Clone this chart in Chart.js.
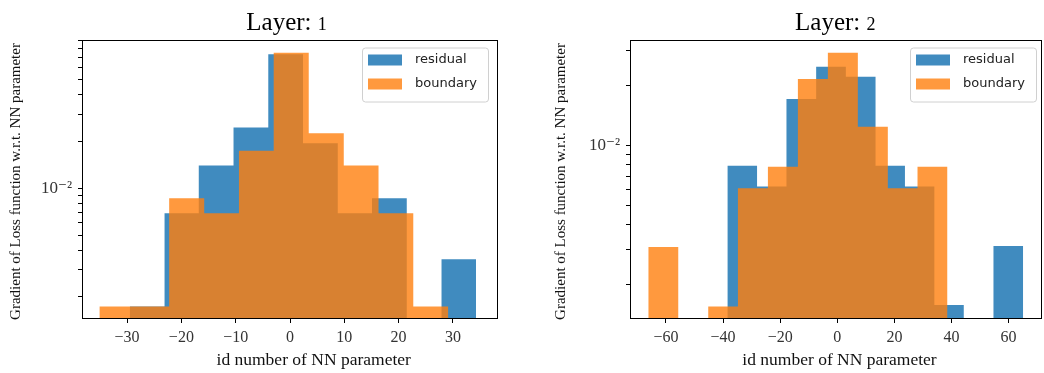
<!DOCTYPE html>
<html lang="en">
<head>
  <meta charset="UTF-8">
  <title>Gradient histograms per layer</title>
  <script src="https://cdn.jsdelivr.net/npm/chart.js"></script>
  <style>
    body { margin: 0; background: #fff; }
    #wrap { position: relative; width: 1044px; height: 373px; }
    canvas { position: absolute; top: 0; }
    #c1 { left: 0; }
    #c2 { left: 520px; }
  </style>
</head>
<body>
<div id="wrap">
  <canvas id="c1" width="520" height="373"></canvas>
  <canvas id="c2" width="524" height="373"></canvas>
</div>

<script>
  // ---- data ----
  var seriesNames = ['residual', 'boundary'];

  // Layer 1: bin edges and bar heights (0 = empty bin)
  var residualEdges1 = [-29.5, -23.1, -16.8, -10.4, -4.0, 2.4, 8.8, 15.1, 21.5, 27.9, 34.25];
  var residualHeights1 = [0.00173, 0.0069, 0.0140, 0.0246, 0.0729, 0.0195, 0.0069, 0.00863, 0, 0.00349];
  var boundaryEdges1 = [-35.1, -28.7, -22.25, -15.8, -9.4, -3.0, 3.45, 9.9, 16.3, 22.7, 29.15];
  var boundaryHeights1 = [0.00173, 0.00173, 0.00863, 0.0069, 0.01747, 0.0747, 0.0226, 0.0140, 0.0069, 0.00173];

  // Layer 2
  var residualEdges2 = [-38.5, -28.1, -17.8, -7.4, 3.0, 13.4, 23.7, 34.0, 44.3, 54.7, 65.1];
  var residualHeights2 = [0.00793, 0.00622, 0.01717, 0.02494, 0.02222, 0.00793, 0.00622, 0.00158, 0, 0.00313];
  var boundaryEdges2 = [-66.2, -55.7, -45.2, -34.8, -24.3, -13.8, -3.3, 7.2, 17.7, 28.1, 38.6];
  var boundaryHeights2 = [0.00309, 0, 0.00155, 0.00611, 0.00784, 0.02163, 0.02933, 0.01246, 0.00611, 0.00784];

  var xTicks1 = [-30, -20, -10, 0, 10, 20, 30];
  var xTicks2 = [-60, -40, -20, 0, 20, 40, 60];
  var yTicks = [0.002, 0.003, 0.004, 0.005, 0.006, 0.007, 0.008, 0.009,
                0.01, 0.02, 0.03, 0.04, 0.05, 0.06, 0.07, 0.08, 0.09];

  var titles = ['Layer: ', 'Layer: '];
  var layerNums = ['1', '2'];
  var xLabel = 'id number of NN parameter';
  var yLabel = 'Gradient of Loss function w.r.t. NN parameter';

  var BLUE = 'rgba(31, 119, 180, 0.85)';
  var ORANGE = 'rgba(255, 127, 14, 0.8)';
  var SERIF = '"Liberation Serif", "DejaVu Serif", serif';
  var SANS = '"DejaVu Sans", sans-serif';

  // step outline for a histogram: each bin holds its height until the next edge
  function histPoints(edges, heights) {
    var pts = [];
    for (var i = 0; i < heights.length; i++) {
      pts.push({ x: edges[i], y: heights[i] > 0 ? heights[i] : 1e-6 });
    }
    pts.push({ x: edges[edges.length - 1], y: pts[pts.length - 1].y });
    return pts;
  }

  function minusSign(v) {
    return v < 0 ? '\u2212' + Math.abs(v) : String(v);
  }

  // frame, title, axis labels and legend
  var panelPlugin = {
    id: 'panel',
    afterDraw: function (chart) {
      var p = chart.options.plugins.panel;
      var ctx = chart.ctx, a = chart.chartArea;
      ctx.save();

      ctx.strokeStyle = '#000';
      ctx.lineWidth = 1;
      ctx.strokeRect(Math.round(a.left) + 0.5, Math.round(a.top) + 0.5,
        Math.round(a.right - a.left) - 1, Math.round(a.bottom - a.top) - 1);

      // title "Layer: n" with a smaller digit
      ctx.fillStyle = '#000';
      ctx.textBaseline = 'alphabetic';
      ctx.font = '25px ' + SERIF;
      var w1 = ctx.measureText(p.title).width;
      ctx.font = '18px ' + SERIF;
      var w2 = ctx.measureText(p.num).width;
      var tx = p.titleX - (w1 + w2) / 2;
      ctx.textAlign = 'left';
      ctx.font = '25px ' + SERIF;
      ctx.fillText(p.title, tx, 29.5);
      ctx.font = '18px ' + SERIF;
      ctx.fillText(p.num, tx + w1, 29.5);

      // x label
      ctx.textAlign = 'center';
      ctx.font = '17.5px ' + SERIF;
      ctx.fillStyle = '#111';
      ctx.fillText(xLabel, p.xLabelX, 365);

      // y label
      ctx.save();
      ctx.translate(p.yLabelX, 181.5);
      ctx.rotate(-Math.PI / 2);
      ctx.textBaseline = 'middle';
      ctx.font = '15px ' + SERIF;
      ctx.fillText(yLabel, 0, 0);
      ctx.restore();

      // legend
      var lx = p.legendX, ly = 47.5, lw = 126, lh = 54;
      ctx.beginPath();
      if (ctx.roundRect) ctx.roundRect(lx + 0.5, ly + 0.5, lw, lh, 3);
      else ctx.rect(lx + 0.5, ly + 0.5, lw, lh);
      ctx.fillStyle = 'rgba(255,255,255,0.8)';
      ctx.fill();
      ctx.strokeStyle = '#d0d0d0';
      ctx.stroke();
      var colors = [BLUE, ORANGE];
      ctx.font = '13px ' + SANS;
      ctx.textAlign = 'left';
      ctx.textBaseline = 'middle';
      for (var i = 0; i < seriesNames.length; i++) {
        var cy = 60 + i * 24;
        ctx.fillStyle = colors[i];
        ctx.fillRect(lx + 6, cy - 5.5, 34, 11);
        ctx.fillStyle = '#222';
        ctx.fillText(seriesNames[i], lx + 53, cy);
      }
      ctx.restore();
    }
  };

  function makeChart(id, opts) {
    var ctx = document.getElementById(id).getContext('2d');
    return new Chart(ctx, {
      type: 'line',
      data: {
        datasets: [{
          label: seriesNames[0],
          data: histPoints(opts.resEdges, opts.resHeights),
          stepped: 'before',
          fill: 'start',
          backgroundColor: BLUE,
          borderColor: 'rgba(0,0,0,0)',
          borderWidth: 0,
          pointRadius: 0,
          order: 1
        }, {
          label: seriesNames[1],
          data: histPoints(opts.bndEdges, opts.bndHeights),
          stepped: 'before',
          fill: 'start',
          backgroundColor: ORANGE,
          borderColor: 'rgba(0,0,0,0)',
          borderWidth: 0,
          pointRadius: 0,
          order: 0
        }]
      },
      options: {
        responsive: false,
        animation: false,
        layout: { padding: { left: 0, right: opts.padRight, top: 40, bottom: 0 } },
        plugins: {
          legend: { display: false },
          tooltip: { enabled: false },
          panel: opts.panel
        },
        scales: {
          x: {
            type: 'linear',
            min: opts.xMin,
            max: opts.xMax,
            afterFit: function (s) { s.height = 54; },
            afterBuildTicks: function (s) {
              s.ticks = opts.xTicks.map(function (v) { return { value: v }; });
            },
            ticks: {
              autoSkip: false,
              maxRotation: 0,
              padding: 5,
              color: '#333',
              font: { family: SERIF, size: 16 },
              callback: function (v) { return minusSign(v); }
            },
            grid: { drawOnChartArea: false, tickLength: 4, tickColor: '#000' },
            border: { display: false }
          },
          y: {
            type: 'logarithmic',
            min: opts.yMin,
            max: opts.yMax,
            afterFit: function (s) { s.width = opts.yWidth; },
            afterBuildTicks: function (s) {
              s.ticks = yTicks.filter(function (v) {
                return v >= opts.yMin && v <= opts.yMax;
              }).map(function (v) { return { value: v }; });
            },
            ticks: {
              autoSkip: false,
              padding: 6,
              color: '#333',
              font: { family: SERIF, size: 17 },
              callback: function (v) { return v === 0.01 ? '10\u207B\u00B2' : ''; }
            },
            grid: { drawOnChartArea: false, tickLength: 4, tickColor: '#000' },
            border: { display: false }
          }
        }
      },
      plugins: [panelPlugin]
    });
  }

  makeChart('c1', {
    resEdges: residualEdges1, resHeights: residualHeights1,
    bndEdges: boundaryEdges1, bndHeights: boundaryHeights1,
    xTicks: xTicks1, xMin: -38.3, xMax: 38.3,
    yMin: 0.00144, yMax: 0.0901,
    yWidth: 82, padRight: 22,
    panel: { title: titles[0], num: layerNums[0], titleX: 286.5, xLabelX: 313.7, yLabelX: 16, legendX: 362 }
  });

  makeChart('c2', {
    resEdges: residualEdges2, resHeights: residualHeights2,
    bndEdges: boundaryEdges2, bndHeights: boundaryHeights2,
    xTicks: xTicks2, xMin: -72.6, xMax: 71.7,
    yMin: 0.001342, yMax: 0.0340,
    yWidth: 110, padRight: 2,
    panel: { title: titles[1], num: layerNums[1], titleX: 315.3, xLabelX: 319.5, yLabelX: 40.8, legendX: 390 }
  });
</script>
</body>
</html>
